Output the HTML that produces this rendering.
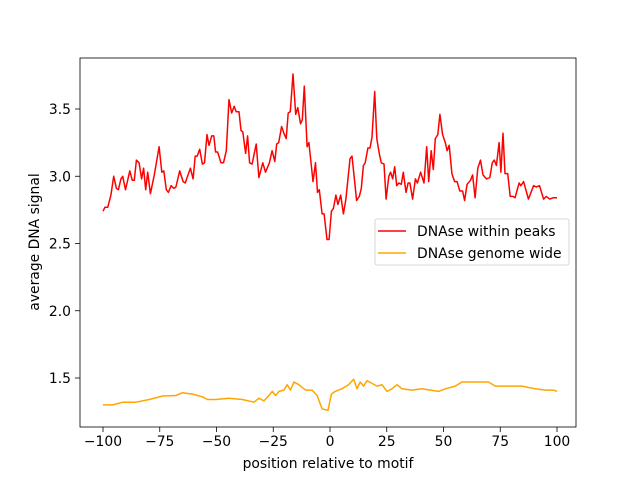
<!DOCTYPE html>
<html><head><meta charset="utf-8"><style>
body{margin:0;background:#fff}
svg text{font-family:"DejaVu Sans","Liberation Sans",sans-serif;font-size:13.9px;fill:#000}
</style></head><body>
<svg id="chart" width="640" height="480" xmlns="http://www.w3.org/2000/svg">
<rect width="640" height="480" fill="#fff"/>
<g id="plot"></g>
<rect x="80" y="58" width="496" height="369" fill="none" stroke="#000" stroke-width="0.8"/>
<g id="axes"></g>
<text x="328" y="468" text-anchor="middle">position relative to motif</text>
<text transform="translate(39,242) rotate(-90)" text-anchor="middle">average DNA signal</text>
<g>
<rect x="375" y="219" width="194" height="46" rx="2" fill="#fff" fill-opacity="0.8" stroke="#ccc" stroke-width="0.8"/>
<line x1="378" y1="231" x2="406" y2="231" stroke="#ff0000" stroke-width="1.5"/>
<text x="417" y="236">DNAse within peaks</text>
<line x1="378" y1="253" x2="406" y2="253" stroke="#ffa500" stroke-width="1.5"/>
<text x="417" y="258">DNAse genome wide</text>
</g>
</svg>
<script>
const xTicks=[-100,-75,-50,-25,0,25,50,75,100];
const yTicks=[1.5,2.0,2.5,3.0,3.5];
const yTickLabels=["1.5","2.0","2.5","3.0","3.5"];
const peaksX=[-100,-99.1,-97.9,-96.5,-95.3,-94.1,-93.2,-92.1,-91.3,-90.1,-88.2,-87.1,-86.2,-85.3,-84.1,-83,-82.1,-81.2,-80.3,-79.1,-77.4,-75.3,-74.1,-73.2,-72.1,-71.2,-70,-68.8,-67.9,-66.2,-64.7,-63.8,-61.5,-60.3,-59.4,-58.5,-57.4,-56.2,-55.3,-54.2,-53.3,-52.1,-51.2,-50.4,-49.5,-48,-46.9,-45.7,-44.5,-43.3,-42.2,-41.3,-40.1,-39.2,-38.4,-37.2,-36.3,-35.4,-34.3,-32.5,-31.3,-29.6,-28.4,-26.7,-25.5,-24.3,-23.5,-22.6,-21.3,-20.1,-19.3,-18.4,-17.5,-16.3,-15.1,-14.2,-13,-12.2,-11.3,-10.1,-9.3,-7.5,-6.4,-5.5,-4.7,-3.5,-2.6,-1.3,-0.4,0.6,1.5,2.6,3.5,4.7,5.9,7,8.8,9.7,11.7,12.9,13.8,14.7,15.5,16.7,17.6,18.5,19.7,20.6,21.8,22.6,23.8,24.7,25.9,26.7,27.6,28.5,29.4,30.3,31.4,32.3,33.5,34.4,35.2,36.4,37.6,38.5,39.9,41.4,42.6,43.5,44.6,45.5,46.4,47.5,48.4,49.6,50.8,51.6,52.5,53.7,54.9,56,57.2,58.4,59.3,60.4,61.9,62.8,63.9,65.1,66.3,67.4,68.9,70.4,71.5,72.4,73.3,74.5,75.3,76.2,77.1,78.3,79.4,80.6,81.5,83.3,84.1,85.3,87.4,89.7,90.9,92.3,94.1,95.3,96.8,98.3,100];
const peaksY=[2.74,2.77,2.77,2.86,3.0,2.91,2.9,2.98,3.0,2.9,3.04,2.97,2.97,3.12,3.1,2.98,3.06,2.9,3.03,2.87,3.01,3.22,3.03,3.04,2.9,2.88,2.93,2.91,2.92,3.04,2.96,2.95,3.06,2.98,3.15,3.15,3.2,3.09,3.1,3.31,3.23,3.3,3.3,3.18,3.18,3.1,3.1,3.19,3.57,3.47,3.52,3.48,3.48,3.34,3.33,3.17,3.3,3.1,3.09,3.24,2.99,3.1,3.03,3.1,3.19,3.11,3.24,3.25,3.37,3.31,3.28,3.47,3.48,3.76,3.46,3.51,3.39,3.42,3.67,3.22,3.25,2.96,3.1,2.88,2.9,2.72,2.72,2.53,2.53,2.74,2.76,2.86,2.79,2.86,2.72,2.83,3.13,3.15,2.82,2.85,2.91,3.08,3.1,3.21,3.21,3.29,3.63,3.28,3.16,3.1,3.09,2.83,3.0,3.03,2.98,3.07,2.93,2.95,2.94,3.03,2.88,2.95,2.95,2.83,2.98,2.95,3.03,2.95,3.22,2.96,3.19,3.05,3.28,3.31,3.46,3.31,3.25,3.19,3.23,3.02,2.96,2.96,2.89,2.89,2.82,2.94,2.97,3.01,2.84,3.06,3.12,3.01,2.98,2.99,3.1,3.12,3.08,3.25,3.03,3.32,3.02,3.02,2.85,2.85,2.84,2.95,2.93,2.96,2.83,2.93,2.92,2.93,2.83,2.85,2.83,2.84,2.84];
const genomeX=[-100,-95.7,-91.3,-85.5,-79.6,-73.7,-67.9,-65,-60.6,-56.2,-54,-50.3,-44.5,-38.6,-33.5,-31.3,-29.1,-26.9,-25.4,-23.9,-22.5,-20.3,-18.8,-17.4,-15.9,-13.7,-10.8,-7.9,-5.7,-3.5,-0.9,0.6,2.3,5.3,8.2,10.4,11.9,13.3,14.8,16.3,18.5,20.7,22.9,25.1,27.3,29.5,31.7,36.1,40.5,44.2,47.8,50.8,55.2,58.1,64,69.8,72.8,78.7,84.5,90.4,94.8,98.5,100];
const genomeY=[1.30,1.30,1.32,1.32,1.34,1.366,1.37,1.39,1.38,1.36,1.34,1.34,1.35,1.34,1.32,1.35,1.33,1.37,1.40,1.37,1.40,1.41,1.45,1.41,1.47,1.45,1.41,1.41,1.37,1.27,1.26,1.38,1.40,1.42,1.45,1.49,1.42,1.47,1.44,1.48,1.46,1.44,1.45,1.40,1.42,1.45,1.42,1.41,1.42,1.41,1.40,1.42,1.44,1.47,1.47,1.47,1.44,1.44,1.44,1.42,1.41,1.41,1.40];
const NS="http://www.w3.org/2000/svg";
function sx(v){return 103+(v+100)*2.27;}
function sy(v){return 109+(3.5-v)*134.5;}
const plot=document.getElementById('plot');
const axes=document.getElementById('axes');
function series(xs,ys,color,name){
  const p=document.createElementNS(NS,'polyline');
  p.setAttribute('points',xs.map((x,i)=>sx(x).toFixed(1)+','+sy(ys[i]).toFixed(1)).join(' '));
  p.setAttribute('fill','none');p.setAttribute('stroke',color);p.setAttribute('stroke-width','1.5');
  p.setAttribute('stroke-linejoin','round');
  
  
  plot.appendChild(p);
}
series(genomeX,genomeY,'#ffa500','genome-wide-line');
series(peaksX,peaksY,'#ff0000','within-peaks-line');
xTicks.forEach(t=>{
  const x=sx(t);
  const l=document.createElementNS(NS,'line');
  l.setAttribute('x1',x);l.setAttribute('x2',x);l.setAttribute('y1',427);l.setAttribute('y2',432);
  l.setAttribute('stroke','#000');l.setAttribute('stroke-width','0.8');
  
  
  axes.appendChild(l);
  const tx=document.createElementNS(NS,'text');
  tx.setAttribute('x',x);tx.setAttribute('y',446);tx.setAttribute('text-anchor','middle');
  tx.textContent=(t<0?'\u2212'+(-t):String(t));
  
  
  axes.appendChild(tx);
});
yTicks.forEach((t,i)=>{
  const y=sy(t);
  const l=document.createElementNS(NS,'line');
  l.setAttribute('x1',75);l.setAttribute('x2',80);l.setAttribute('y1',y);l.setAttribute('y2',y);
  l.setAttribute('stroke','#000');l.setAttribute('stroke-width','0.8');
  
  
  axes.appendChild(l);
  const tx=document.createElementNS(NS,'text');
  tx.setAttribute('x',71);tx.setAttribute('y',y+5);tx.setAttribute('text-anchor','end');
  tx.textContent=yTickLabels[i];
  
  
  axes.appendChild(tx);
});
</script>
</body></html>
